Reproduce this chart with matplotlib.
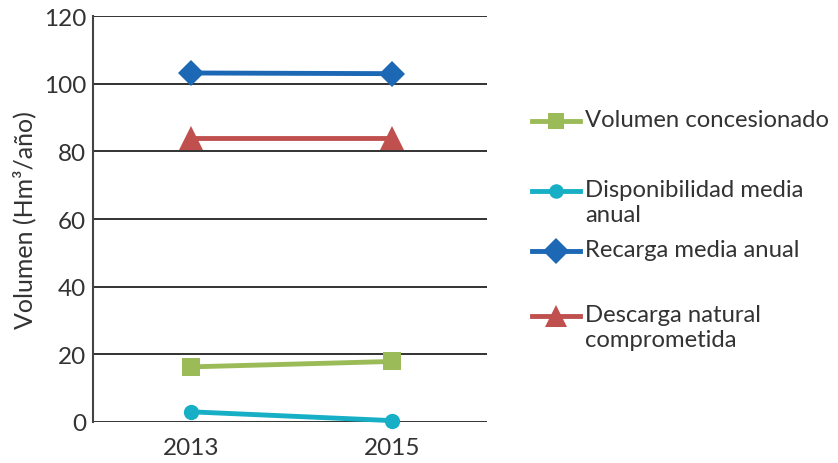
import matplotlib
matplotlib.use("Agg")
import matplotlib.pyplot as plt
from matplotlib.lines import Line2D

plt.rcParams['font.family'] = ['Lato', 'DejaVu Sans']

years = ["2013", "2015"]
volumen_concesionado = [16.3, 17.9]
disponibilidad = [3.0, 0.4]
recarga = [103.2, 103.0]
descarga = [84.0, 84.0]
series_labels = ["Volumen concesionado", "Disponibilidad media\nanual",
                 "Recarga media anual", "Descarga natural\ncomprometida"]
yticks = [0, 20, 40, 60, 80, 100, 120]

colors = ["#9BBB59", "#17AFC6", "#1C68B5", "#C0504D"]
markers = ["s", "o", "D", "^"]
msizes = [12.5, 11, 13.5, 17]
data = [volumen_concesionado, disponibilidad, recarga, descarga]

fig = plt.figure(figsize=(8.38, 4.64), dpi=100)
ax = fig.add_axes([0.111, 0.0884, 0.47, 0.8746])
x = range(len(years))
for vals, c, m, ms in zip(data, colors, markers, msizes):
    ax.plot(x, vals, color=c, marker=m, markersize=ms, linewidth=3.5,
            markeredgewidth=0, zorder=3, clip_on=False)

ax.set_xlim(-0.49, 1.47)
ax.set_ylim(0, 120)
ax.set_yticks(yticks)
ax.set_xticks(list(x))
ax.set_xticklabels(years)
ax.tick_params(length=0, labelsize=17.5, labelcolor="#333333")
ax.tick_params(axis='y', pad=5)
ax.tick_params(axis='x', pad=11)
ax.grid(axis='y', color="#222222", linewidth=1.3)
ax.set_axisbelow(True)
for s in ["top", "right", "bottom"]:
    ax.spines[s].set_visible(False)
ax.spines["left"].set_color("#444444")
ax.spines["left"].set_linewidth(1.5)
ax.set_ylabel("Volumen (Hm³/año)", fontsize=18, color="#333333", labelpad=5)

# legend (manual, handles aligned to first line of text)
leg_y = [122, 192, 252, 317]
line_step = 25
for lab, c, m, ms, yp in zip(series_labels, colors, markers, msizes, leg_y):
    yf = 1 - yp / 464
    fig.add_artist(Line2D([532 / 838, 580 / 838], [yf, yf], color=c, linewidth=3.5,
                          transform=fig.transFigure))
    fig.add_artist(Line2D([556 / 838], [yf], color=c, marker=m, markersize=ms * 0.95,
                          markeredgewidth=0, transform=fig.transFigure))
    for i, part in enumerate(lab.split("\n")):
        fig.text(585 / 838, 1 - (yp + 5 + i * line_step) / 464, part, fontsize=17.2,
                 color="#333333", va="baseline", ha="left")

fig.savefig("out.png", dpi=100)
